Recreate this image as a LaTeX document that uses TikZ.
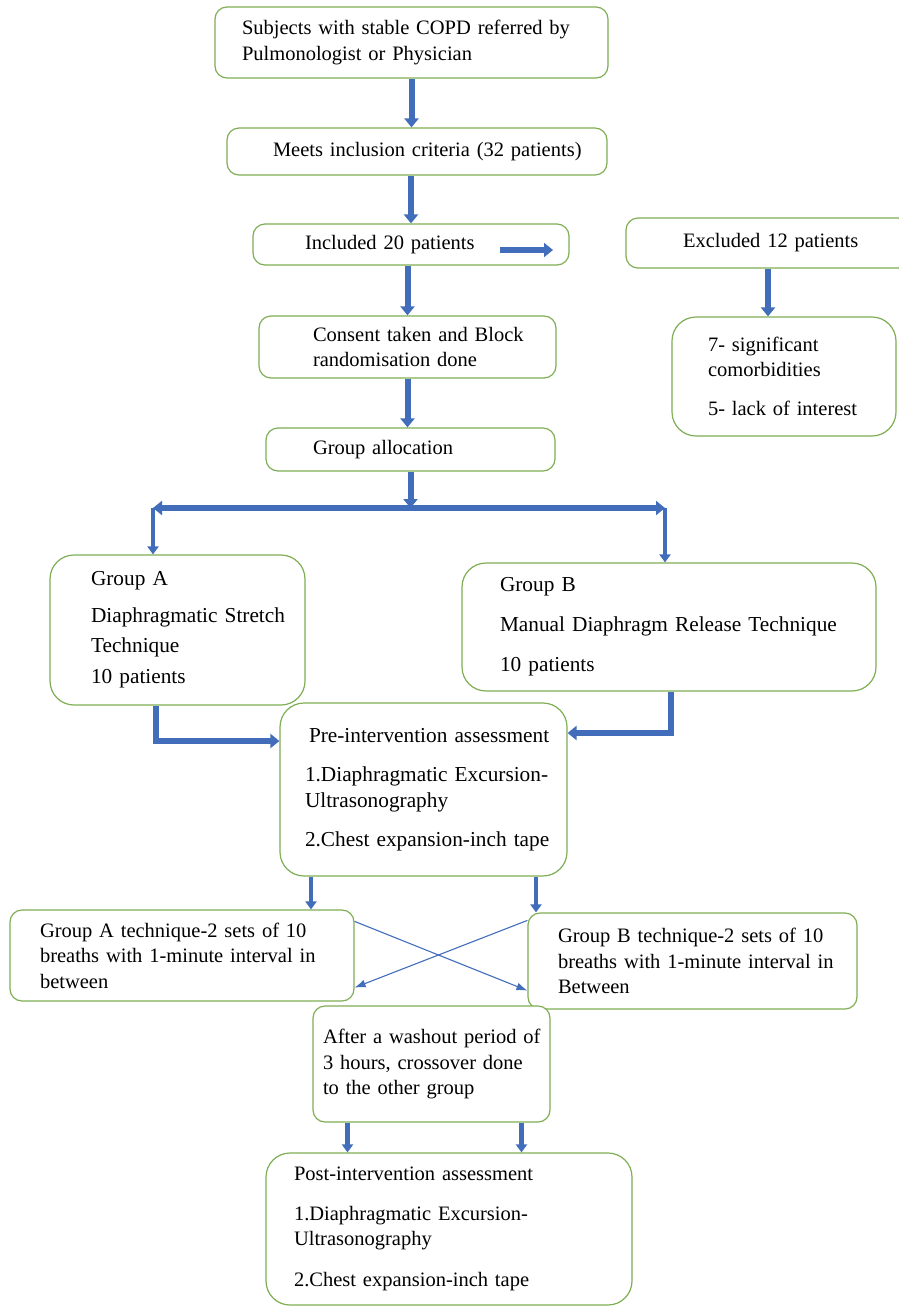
\documentclass[tikz,border=0pt]{standalone}
\usepackage{fontspec}
\setmainfont{Liberation Serif}
\usetikzlibrary{arrows.meta,calc}
\definecolor{boxgreen}{HTML}{7FAE55}
\definecolor{arrowblue}{HTML}{416DBB}
\tikzset{
  box/.style={draw=boxgreen, line width=1.2pt, rounded corners=12pt, fill=white, align=left, inner sep=0pt, font=\fontsize{20.5}{25.5}\selectfont},
  bigbox/.style={box, rounded corners=24pt},
  widetext/.style={font=\fontsize{21.3}{25.5}\selectfont},
  blockarrow/.style={-{Triangle[length=9pt,width=14pt]}, line width=6pt, draw=arrowblue},
  slimarrow/.style={-{Triangle[length=8pt,width=11pt]}, line width=4.5pt, draw=arrowblue},
  crossarrow/.style={-{Latex[length=11pt,width=8pt]}, line width=1.1pt, draw=arrowblue}
}
\begin{document}
\begin{tikzpicture}[x=1pt,y=-1pt]
\useasboundingbox (0,0) rectangle (899,1307);
% screening
\node[box, minimum width=393pt, minimum height=71pt, text width=339pt] (subj) at (411.5,42.5) {Subjects with stable COPD referred by\\Pulmonologist or Physician};
\node[box, minimum width=380pt, minimum height=47pt, text width=288pt] (meets) at (417,151.5) {\mbox{Meets inclusion criteria (32 patients)}};
\node[box, minimum width=316pt, minimum height=41pt, text width=212pt] (incl) at (411,244.5) {Included 20 patients};
\node[box, minimum width=284pt, minimum height=50pt, text width=170pt] (excl) at (768,243) {\mbox{Excluded 12 patients}};
\node[box, minimum width=297pt, minimum height=62pt, text width=189pt] (cons) at (407.5,347) {\mbox{Consent taken and Block}\\randomisation done};
\node[bigbox, minimum width=224pt, minimum height=119pt, text width=152pt] (exd) at (784,376.5) {7- significant\\comorbidities\\[13.5pt]5- lack of interest};
\node[box, minimum width=289pt, minimum height=43pt, text width=195pt] (galloc) at (410.5,449.5) {Group allocation};
% groups
\node[bigbox, widetext, minimum width=255pt, minimum height=150pt, text width=173pt] (grpA) at (177.5,630) {Group A\\[11.5pt]\mbox{Diaphragmatic Stretch}\\[4.5pt]Technique\\[5.5pt]10 patients};
\node[bigbox, widetext, minimum width=414pt, minimum height=128pt, text width=338pt] (grpB) at (669,627) {Group B\\[14.5pt]\mbox{Manual Diaphragm Release Technique}\\[14.5pt]10 patients};
\node[bigbox, widetext, minimum width=287pt, minimum height=173pt, text width=237pt] (pre) at (423.5,789.5) {\mbox{\hspace{4pt}Pre-intervention assessment}\\[13.5pt]\mbox{1.Diaphragmatic Excursion-}\\Ultrasonography\\[13.5pt]\mbox{2.Chest expansion-inch tape}};
\node[box, minimum width=344pt, minimum height=91pt, text width=284pt] (gAt) at (182,955.5) {\mbox{Group A technique-2 sets of 10}\\\mbox{breaths with 1-minute interval in}\\between};
\node[box, minimum width=329pt, minimum height=96pt, text width=269pt] (gBt) at (692.5,961) {\mbox{Group B technique-2 sets of 10}\\\mbox{breaths with 1-minute interval in}\\Between};
\node[box, minimum width=237pt, minimum height=116pt, text width=217pt] (wash) at (431.5,1064) {\mbox{After a washout period of}\\\mbox{3 hours, crossover done}\\to the other group};
\node[bigbox, minimum width=366pt, minimum height=152pt, text width=310pt] (post) at (449,1229) {Post-intervention assessment\\[14.5pt]1.Diaphragmatic Excursion-\\Ultrasonography\\[15.5pt]2.Chest expansion-inch tape};
% connectors
\coordinate (inclA) at (500,250);
\coordinate (inclB) at (553,250);
\coordinate (split) at (410.5,508);
\coordinate (barL) at (153,508);
\coordinate (barR) at (665,508);
\coordinate (aturn) at (156,741);
\coordinate (bturn) at (671,733);
\draw[blockarrow] (subj.south) -- (subj.south |- meets.north);
\draw[blockarrow] (incl.north |- meets.south) -- (incl.north);
\draw[blockarrow] (inclA) -- (inclB);
\draw[blockarrow] (cons.north |- incl.south) -- (cons.north);
\draw[blockarrow] (excl.south) -- (excl.south |- exd.north);
\draw[blockarrow] (cons.south) -- (cons.south |- galloc.north);
\draw[blockarrow] (galloc.south) -- (split);
\draw[blockarrow] (split) -- (barL);
\draw[blockarrow] (split) -- (barR);
\draw[slimarrow] (barL) -- (barL |- grpA.north);
\draw[slimarrow] (barR) -- (barR |- grpB.north);
\draw[blockarrow, line join=miter] (aturn |- grpA.south) -- (aturn) -- (aturn -| pre.west);
\draw[blockarrow, line join=miter] (bturn |- grpB.south) -- (bturn) -- (bturn -| pre.east);
\draw[slimarrow] ([xshift=-112.5pt]pre.south) -- ([xshift=-112.5pt]pre.south |- gAt.north);
\draw[slimarrow] ([xshift=112.5pt]pre.south) -- ([xshift=112.5pt]pre.south |- gBt.north);
\draw[crossarrow] ([yshift=-12pt]gAt.north east) -- ([yshift=19pt]gBt.south west);
\draw[crossarrow] ([yshift=-8pt]gBt.north west) -- ([yshift=14pt]gAt.south east);
\draw[slimarrow] ([xshift=-84pt]wash.south) -- ([xshift=-84pt]wash.south |- post.north);
\draw[slimarrow] ([xshift=90pt]wash.south) -- ([xshift=90pt]wash.south |- post.north);
\end{tikzpicture}
\end{document}
